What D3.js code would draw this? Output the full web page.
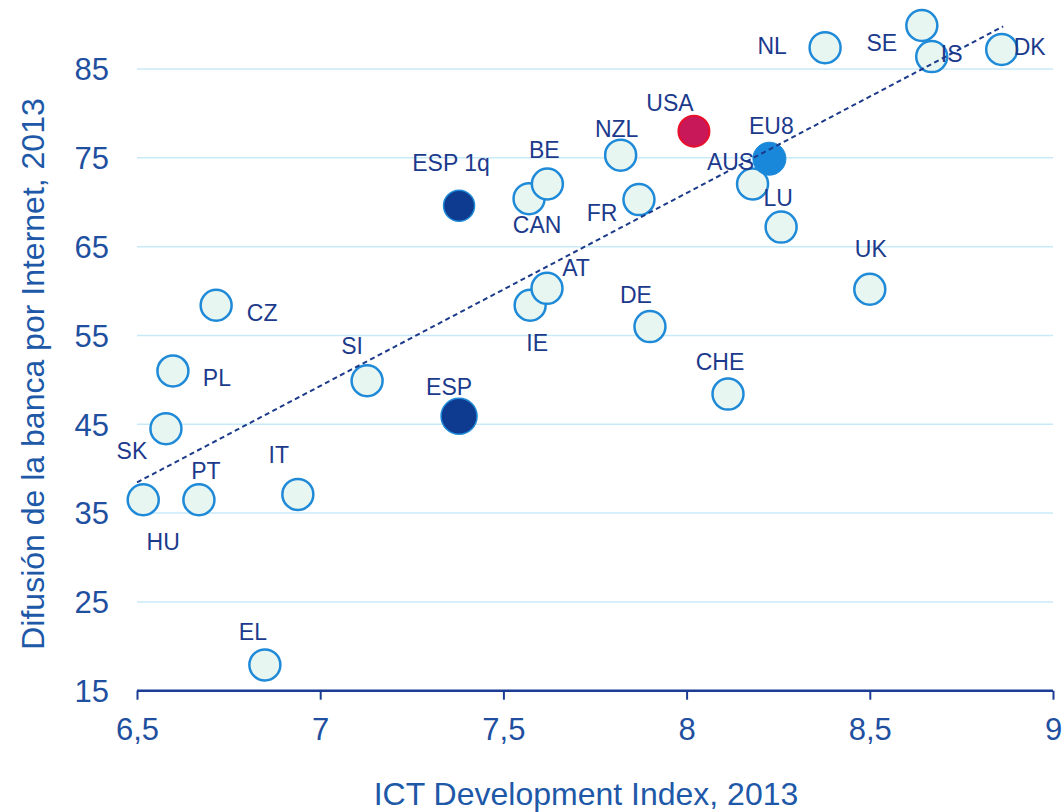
<!DOCTYPE html>
<html>
<head>
<meta charset="utf-8">
<script src="https://cdn.jsdelivr.net/npm/d3@7"></script>
<style>
  html, body { margin: 0; padding: 0; background: #ffffff; }
  svg { display: block; font-family: "Liberation Sans", Arial, sans-serif; }
</style>
</head>
<body>
<svg id="chart" width="1062" height="812"></svg>
<script>
// ---- data ----
const countries = ["HU","SK","PL","CZ","PT","IT","EL","SI","ESP","ESP 1q","IE","AT","CAN","BE","NZL","FR","DE","USA","CHE","AUS","EU8","LU","NL","UK","SE","IS","DK"];
const ictIndex  = [6.517,6.579,6.598,6.716,6.669,6.939,6.849,7.128,7.379,7.379,7.573,7.619,7.570,7.620,7.820,7.870,7.900,8.020,8.113,8.180,8.226,8.258,8.378,8.500,8.642,8.669,8.860];
const banking   = [36.5,44.5,51.0,58.4,36.5,37.1,17.9,49.9,45.9,69.6,58.4,60.3,70.4,72.05,75.3,70.3,56.0,78.0,48.4,72.05,74.9,67.2,87.4,60.2,89.9,86.4,87.2];
const pointKind = ["c","c","c","c","c","c","c","c","esp","esp1q","c","c","c","c","c","c","c","usa","c","c","eu8","c","c","c","c","c","c"];
const trendX = [6.5, 8.864];
const trendY = [38.45, 89.8];
const xTicks = [6.5, 7, 7.5, 8, 8.5, 9];
const xTickLabels = ["6,5","7","7,5","8","8,5","9"];
const yTicks = [15, 25, 35, 45, 55, 65, 75, 85];
const xTitle = "ICT Development Index, 2013";
const yTitle = "Difusión de la banca por Internet, 2013";

// ---- label placement (pixel offsets from point centre to label baseline centre) ----
const labelOffset = {
  "HU":[20,50], "SK":[-34,30], "PL":[44,15], "CZ":[46,16], "PT":[7,-21], "IT":[-19,-31],
  "EL":[-12,-25], "SI":[-15,-27], "ESP":[-10,-21], "ESP 1q":[-8,-35], "IE":[7,46],
  "AT":[29,-12], "CAN":[8,34], "BE":[-3,-26], "NZL":[-4,-18], "FR":[-37,21], "DE":[-14,-24],
  "USA":[-24,-20], "CHE":[-8,-24], "AUS":[-22,-14], "EU8":[2,-25], "LU":[-3,-21],
  "NL":[-53,6], "UK":[1,-32], "SE":[-40,26], "IS":[20,5], "DK":[28,6]
};

// ---- styles ----
const kindStyle = {
  c:     {fill:"#e8f6f2", stroke:"#1f8ad8", sw:2.5, r:15.5},
  esp:   {fill:"#0e3a8f", stroke:"#1f8ad8", sw:1.5, r:18},
  esp1q: {fill:"#0e3a8f", stroke:"#1f8ad8", sw:1.5, r:15.5},
  usa:   {fill:"#c8185a", stroke:"#e8102a", sw:2,   r:15.5},
  eu8:   {fill:"#1a88da", stroke:"#1a88da", sw:1,   r:16.5}
};

const data = countries.map((c,i)=>({name:c, x:ictIndex[i], y:banking[i], kind:pointKind[i]}));

const svg = d3.select("#chart");
const x = d3.scaleLinear().domain([6.5, 9]).range([137, 1053]);
const y = d3.scaleLinear().domain([15, 85]).range([690.7, 69]);

// gridlines
svg.append("g")
  .selectAll("line")
  .data(yTicks.filter(t => t > 15))
  .join("line")
  .attr("x1", x(6.5)).attr("x2", x(9))
  .attr("y1", d => y(d)).attr("y2", d => y(d))
  .attr("stroke", "#c8eaf8").attr("stroke-width", 1.5);

// y axis labels (no line)
const yAxis = d3.axisLeft(y).tickValues(yTicks).tickSize(0).tickPadding(0).tickFormat(d3.format("d"));
const gy = svg.append("g").attr("transform", `translate(${x(6.5) - 28},0)`).call(yAxis);
gy.select(".domain").remove();
gy.selectAll("text").attr("font-size", 31).attr("fill", "#1f4f9f")
  .attr("font-family", "Liberation Sans, Arial, sans-serif").attr("dy", "0.35em");

// x axis
const xAxis = d3.axisBottom(x).tickValues(xTicks).tickSize(9).tickPadding(18)
  .tickFormat((d,i) => xTickLabels[i]);
const gx = svg.append("g").attr("transform", `translate(0,${y(15)})`).call(xAxis);
gx.select(".domain").attr("stroke", "#1a3d93").attr("stroke-width", 2.5)
  .attr("d", `M${x(6.5)},0H${x(9)}`);
gx.selectAll(".tick line").attr("stroke", "#1a3d93").attr("stroke-width", 2);
gx.selectAll("text").attr("font-size", 31).attr("fill", "#1f4f9f")
  .attr("font-family", "Liberation Sans, Arial, sans-serif");

// points
svg.append("g")
  .selectAll("circle")
  .data(data)
  .join("circle")
  .attr("cx", d => x(d.x)).attr("cy", d => y(d.y))
  .attr("r", d => kindStyle[d.kind].r)
  .attr("fill", d => kindStyle[d.kind].fill)
  .attr("stroke", d => kindStyle[d.kind].stroke)
  .attr("stroke-width", d => kindStyle[d.kind].sw);

// trend line
svg.append("path")
  .datum(trendX.map((v,i)=>[v, trendY[i]]))
  .attr("d", d3.line().x(d => x(d[0])).y(d => y(d[1])))
  .attr("fill", "none").attr("stroke", "#1b3a8a").attr("stroke-width", 2)
  .attr("stroke-dasharray", "5,3.5");

// labels
svg.append("g")
  .selectAll("text")
  .data(data)
  .join("text")
  .attr("x", d => x(d.x) + labelOffset[d.name][0])
  .attr("y", d => y(d.y) + labelOffset[d.name][1])
  .attr("text-anchor", "middle")
  .attr("font-size", 23)
  .attr("fill", "#1c3a8c")
  .text(d => d.name);

// axis titles
svg.append("text")
  .attr("x", 586).attr("y", 805)
  .attr("text-anchor", "middle").attr("font-size", 32).attr("fill", "#2058a8")
  .text(xTitle);

svg.append("text")
  .attr("transform", "translate(44,374) rotate(-90)")
  .attr("text-anchor", "middle").attr("font-size", 32).attr("fill", "#2058a8")
  .text(yTitle);
</script>
</body>
</html>
